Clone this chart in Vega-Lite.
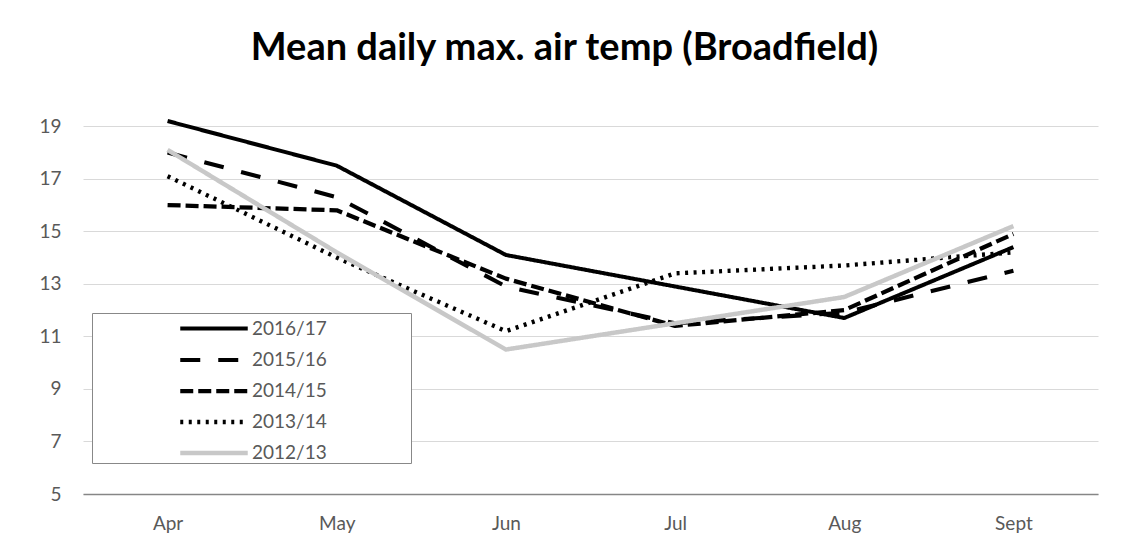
{
  "$schema": "https://vega.github.io/schema/vega-lite/v6.json",
  "width": 1015,
  "height": 394,
  "autosize": "none",
  "padding": {"left": 83, "top": 100, "right": 24, "bottom": 61},
  "background": "white",
  "title": {
    "text": "Mean daily max. air temp (Broadfield)",
    "font": "Lato",
    "fontSize": 38,
    "fontWeight": "bold",
    "color": "#000000",
    "anchor": "middle",
    "dx": -26,
    "offset": 2,
    "baseline": "alphabetic"
  },
  "config": {
    "view": {"stroke": null},
    "font": "Lato",
    "legend": {
      "title": null,
      "orient": "none",
      "legendX": 9,
      "legendY": 213,
      "padding": 0,
      "rowPadding": 5,
      "strokeColor": "#888888",
      "fillColor": "#ffffff",
      "symbolType": "M-2.5,0H2.5",
      "symbolSize": 729,
      "symbolOffset": 106,
      "labelOffset": 22,
      "labelFontSize": 19,
      "labelColor": "#595959"
    }
  },
  "data": {
    "values": [
      {"season": "2016/17", "month": "Apr", "temp": 19.2},
      {"season": "2016/17", "month": "May", "temp": 17.5},
      {"season": "2016/17", "month": "Jun", "temp": 14.1},
      {"season": "2016/17", "month": "Jul", "temp": 12.9},
      {"season": "2016/17", "month": "Aug", "temp": 11.7},
      {"season": "2016/17", "month": "Sept", "temp": 14.4},
      {"season": "2015/16", "month": "Apr", "temp": 18.0},
      {"season": "2015/16", "month": "May", "temp": 16.3},
      {"season": "2015/16", "month": "Jun", "temp": 12.9},
      {"season": "2015/16", "month": "Jul", "temp": 11.5},
      {"season": "2015/16", "month": "Aug", "temp": 11.9},
      {"season": "2015/16", "month": "Sept", "temp": 13.5},
      {"season": "2014/15", "month": "Apr", "temp": 16.0},
      {"season": "2014/15", "month": "May", "temp": 15.8},
      {"season": "2014/15", "month": "Jun", "temp": 13.2},
      {"season": "2014/15", "month": "Jul", "temp": 11.4},
      {"season": "2014/15", "month": "Aug", "temp": 12.0},
      {"season": "2014/15", "month": "Sept", "temp": 14.9},
      {"season": "2013/14", "month": "Apr", "temp": 17.1},
      {"season": "2013/14", "month": "May", "temp": 14.0},
      {"season": "2013/14", "month": "Jun", "temp": 11.2},
      {"season": "2013/14", "month": "Jul", "temp": 13.4},
      {"season": "2013/14", "month": "Aug", "temp": 13.7},
      {"season": "2013/14", "month": "Sept", "temp": 14.2},
      {"season": "2012/13", "month": "Apr", "temp": 18.1},
      {"season": "2012/13", "month": "May", "temp": 14.2},
      {"season": "2012/13", "month": "Jun", "temp": 10.5},
      {"season": "2012/13", "month": "Jul", "temp": 11.5},
      {"season": "2012/13", "month": "Aug", "temp": 12.5},
      {"season": "2012/13", "month": "Sept", "temp": 15.2}
    ]
  },
  "mark": {"type": "line", "strokeCap": "butt", "strokeJoin": "round"},
  "encoding": {
    "x": {
      "field": "month",
      "type": "ordinal",
      "sort": ["Apr", "May", "Jun", "Jul", "Aug", "Sept"],
      "scale": {"type": "point", "padding": 0.5},
      "axis": {
        "title": null,
        "labelAngle": 0,
        "ticks": false,
        "labelPadding": 20,
        "labelFontSize": 19,
        "labelColor": "#595959",
        "domainColor": "#868686",
        "domainWidth": 1.5,
        "grid": false
      }
    },
    "y": {
      "field": "temp",
      "type": "quantitative",
      "scale": {"domain": [5, 20], "nice": false, "zero": false},
      "axis": {
        "title": null,
        "values": [5, 7, 9, 11, 13, 15, 17, 19],
        "ticks": false,
        "domain": false,
        "labelPadding": 22,
        "labelFontSize": 19,
        "labelColor": "#595959",
        "gridColor": "#d9d9d9",
        "gridWidth": 1.2
      }
    },
    "color": {
      "field": "season",
      "type": "ordinal",
      "scale": {
        "domain": ["2016/17", "2015/16", "2014/15", "2013/14", "2012/13"],
        "range": ["#000000", "#000000", "#000000", "#000000", "#c8c8c8"]
      },
      "legend": {"labelExpr": "datum.label + '\u2800\u2800\u2800\u2800\u2800\u2800'"}
    },
    "strokeDash": {
      "field": "season",
      "type": "ordinal",
      "scale": {
        "domain": ["2016/17", "2015/16", "2014/15", "2013/14", "2012/13"],
        "range": [[1, 0], [20, 18], [13, 5], [3, 5.5], [1, 0]]
      }
    },
    "strokeWidth": {
      "field": "season",
      "type": "ordinal",
      "scale": {
        "domain": ["2016/17", "2015/16", "2014/15", "2013/14", "2012/13"],
        "range": [4, 4.5, 3.5, 3, 4.5]
      }
    }
  }
}
